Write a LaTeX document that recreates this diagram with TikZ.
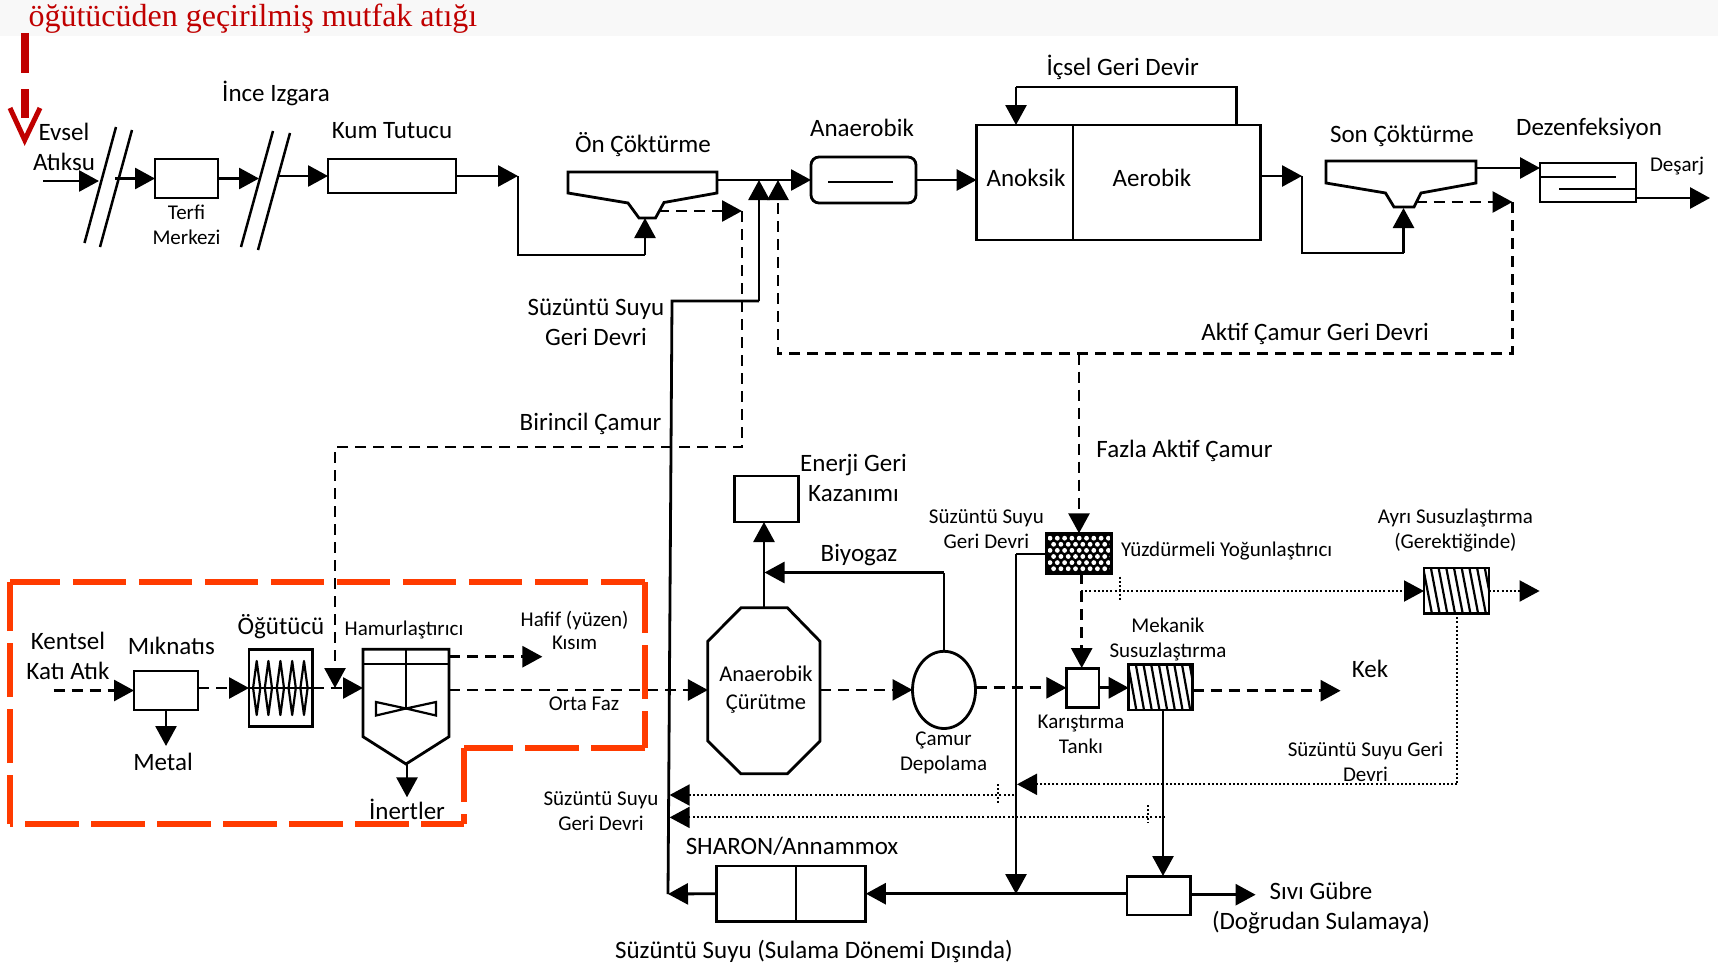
\documentclass[tikz,border=0pt]{standalone}
\usepackage{fontspec}
\setmainfont{Carlito}
\newfontfamily\redserif{Liberation Serif}
\usetikzlibrary{arrows.meta,shapes.geometric}
\definecolor{redtxt}{HTML}{C00000}
\definecolor{redbox}{HTML}{FF3B00}
\definecolor{band}{HTML}{F8F8F8}
\tikzset{
  every node/.style={inner sep=0pt,outer sep=0pt},
  unit/.style={draw=black,line width=2.8pt,rectangle},
  ghost/.style={draw=none,rectangle},
  lab/.style={align=center,text=black,font=\fontsize{25}{30}\selectfont},
  slab/.style={align=center,text=black,font=\fontsize{21}{25}\selectfont},
  wire/.style={line width=2.8pt,draw=black},
  flow/.style={wire,-{Triangle[length=20pt,width=21pt]}},
  dwire/.style={wire,dash pattern=on 11pt off 7pt},
  dflow/.style={dwire,-{Triangle[length=20pt,width=21pt]}},
  owire/.style={line width=2pt,draw=black,dash pattern=on 2pt off 2.2pt},
  oflow/.style={owire,-{Triangle[length=20pt,width=21pt]}},
  redseg/.style={line width=6pt,draw=redbox,dash pattern=on 53.6pt off 12.4pt},
}
\begin{document}
\begin{tikzpicture}[x=1pt,y=-1pt]
\useasboundingbox (0,0) rectangle (1718,966);
\fill[band] (0,0) rectangle (1718,36);

% ---------- named anchor points ----------
\coordinate (evinA) at (43,181);
\coordinate (evinB) at (99,181);
\coordinate (s1a) at (116,127); \coordinate (s1b) at (84.5,243);
\coordinate (s2a) at (132,130); \coordinate (s2b) at (100,247);
\coordinate (s3a) at (273,131); \coordinate (s3b) at (241,247);
\coordinate (s4a) at (290,133); \coordinate (s4b) at (258,250);
\coordinate (afterS2) at (115,178.5);
\coordinate (toS3) at (259,178.5);
\coordinate (afterS4) at (277,176);
\coordinate (kumOut) at (518,176);
\coordinate (kumLow) at (518,255);
\coordinate (onLow) at (645,255);
\coordinate (onIn) at (645,218);
\coordinate (onDash) at (658,211);
\coordinate (pcA) at (742,211);
\coordinate (pcB) at (742,447);
\coordinate (pcC) at (335,447);
\coordinate (pcD) at (335,688);
\coordinate (ssUp) at (759,180);
\coordinate (ssA) at (759,301);
\coordinate (ssB) at (672,301);
\coordinate (ssC) at (668,894);
\coordinate (rasUp) at (778,180);
\coordinate (rasA) at (778,353.5);
\coordinate (rasB) at (1512.5,353.5);
\coordinate (rasC) at (1512.5,202);
\coordinate (rasJ) at (1079,353.5);
\coordinate (aerOut) at (1302,176);
\coordinate (aerLow) at (1302,253);
\coordinate (sonLow) at (1403.5,253);
\coordinate (sonIn) at (1403.5,208);
\coordinate (sonDash) at (1415.5,202);
\coordinate (recA) at (1236.6,125);
\coordinate (recB) at (1236.6,87);
\coordinate (recC) at (1016,87);
\coordinate (recD) at (1016,125);
\coordinate (desOut) at (1710,198);

% ---------- top line units ----------
\node[unit,minimum width=63pt,minimum height=39pt] (terfi) at (186.5,178.5) {};
\node[unit,minimum width=128pt,minimum height=34pt] (kum) at (392,176) {};
\node[unit,minimum width=105pt,minimum height=46pt,rounded corners=8pt] (anae) at (863.5,180) {};
\node[unit,minimum width=284pt,minimum height=115pt] (reactor) at (1118.6,182.5) {};
\node[unit,minimum width=96pt,minimum height=39pt] (dez) at (1588,182.5) {};
\node[ghost,minimum width=149pt,minimum height=46pt] (on) at (642.5,195) {};
\node[ghost,minimum width=150pt,minimum height=46pt] (son) at (1401,184) {};

\draw[wire,line join=miter] (on.north west) -- (on.north east) -- (717,193) -- (664,202.5) -- (655.5,218) -- (639,218) -- (628,203) -- (568,193) -- cycle;
\draw[wire,line join=miter] (son.north west) -- (son.north east) -- (1476,183) -- (1421,193) -- (1414,207) -- (1394,207) -- (1385.5,193) -- (1326,183) -- cycle;
\draw[wire] (828,182) -- (893,182);
\draw[wire] (1073,125) -- (1073,240);
\draw[wire] (1540,177) -- (1616,177);
\draw[wire] (1559,189) -- (1635.6,189);

\foreach \p/\q in {s1a/s1b,s2a/s2b,s3a/s3b,s4a/s4b} \draw[line width=2.5pt] (\p) -- (\q);

\draw[flow] (evinA) -- (evinB);
\draw[flow] (afterS2) -- (terfi.west);
\draw[flow] (terfi.east) -- (toS3);
\draw[flow] (afterS4) -- (kum.west);
\draw[flow] (kum.east) -- (kumOut);
\draw[wire] (kumOut) -- (kumLow) -- (onLow);
\draw[flow] (onLow) -- (onIn);
\draw[flow] (717,180) -- (anae.west);
\draw[flow] (anae.east) -- (976.6,180);
\draw[flow] (1260.6,176) -- (aerOut);
\draw[wire] (aerOut) -- (aerLow) -- (sonLow);
\draw[flow] (sonLow) -- (sonIn);
\draw[flow] (1476,168) -- (1540,168);
\draw[flow] (1635.6,198) -- (desOut);
\draw[wire] (recA) -- (recB) -- (recC);
\draw[flow] (recC) -- (recD);
\draw[dflow] (onDash) -- (pcA);
\draw[dwire] (pcA) -- (pcB) -- (pcC) -- (335,670);
\draw[flow] (335,670) -- (pcD);
\draw[flow] (ssA) -- (ssUp);
\draw[wire] (ssC) -- (ssB) -- (ssA);
\draw[dwire] (rasC) -- (rasB) -- (rasA) -- (778,200);
\draw[flow] (778,200) -- (rasUp);
\draw[dflow] (sonDash) -- (rasC);

% ---------- lower line units ----------
\node[unit,minimum width=64pt,minimum height=39pt] (magnet) at (166,690.5) {};
\node[unit,minimum width=63.5pt,minimum height=77.4pt] (grinder) at (280.75,688) {};
\node[ghost,minimum width=86pt,minimum height=87.4pt] (pulper) at (406,693) {};
\node[unit,minimum width=64pt,minimum height=46pt] (energy) at (766.5,499) {};
\node[ghost,minimum width=112.2pt,minimum height=166pt] (digest) at (764,690.8) {};
\draw[wire,line join=miter] (741,607.8) -- (787.4,607.8) -- (820,641.3) -- (820,741) -- (787.4,773.8) -- (741,773.8) -- (707.8,741) -- (707.8,641.3) -- cycle;
\node[ellipse,draw=black,line width=2.8pt,minimum width=63pt,minimum height=77.2pt] (store) at (944,689.9) {};
\node[unit,minimum width=32.6pt,minimum height=39.3pt] (mixer) at (1082.7,687.8) {};
\node[unit,minimum width=64pt,minimum height=45.5pt] (mech) at (1160.7,687.3) {};
\node[unit,fill=black,minimum width=65pt,minimum height=39.8pt] (daf) at (1079,553.2) {};
\node[unit,minimum width=65pt,minimum height=45.3pt] (sep) at (1456.5,590.7) {};
\node[unit,minimum width=149.3pt,minimum height=55.3pt] (sharon) at (791.2,893.7) {};
\draw[wire] (sharon.north) ++(4.7,0) -- ++(0,55.3);
\node[unit,minimum width=63.6pt,minimum height=38.3pt] (fert) at (1158.8,895.8) {};

% grinder coil
\foreach \cx in {256.7,268.4,280.4,292.2,304}
  \draw[line width=2.2pt,line join=round] (\cx,661) -- (\cx+3.6,688) -- (\cx,715) -- (\cx-3.6,688) -- cycle;
\draw[line width=2pt] (grinder.west) -- (grinder.east);

% pulper
\draw[wire,line join=miter] (pulper.north west) -- (pulper.north east) -- (pulper.south east) -- (406,764) -- (pulper.south west) -- cycle;
\draw[wire] (363,664) -- (449,664);
\draw[wire] (406,649.3) -- (406,708);
\draw[line width=2.2pt,line join=miter] (406,708.5) -- (376,702) -- (376,715.5) -- cycle;
\draw[line width=2.2pt,line join=miter] (406,708.5) -- (436,702) -- (436,715.5) -- cycle;

% hatching
\begin{scope}
\clip (mech.south west) rectangle (mech.north east);
\foreach \i in {0,...,8} \draw[line width=2.2pt] (1128+\i*7.7,664) -- (1136.5+\i*7.7,711);
\end{scope}
\begin{scope}
\clip (sep.south west) rectangle (sep.north east);
\foreach \i in {0,...,8} \draw[line width=2.2pt] (1423+\i*7.7,567) -- (1432+\i*7.7,614);
\end{scope}

% flotation pattern
\begin{scope}
\clip (daf.south west) rectangle (daf.north east);
\foreach \r in {0,...,5} \foreach \c in {0,...,8}
  \pgfmathsetmacro{\dx}{mod(\r,2)*3.6}
  \fill[white] (1050+\c*7.3+\dx,538.2+\r*6.1) circle (2.4pt);
\end{scope}
\draw[line width=2.8pt] (daf.north west) rectangle (daf.south east);

% lower line connectors
\coordinate (msIn) at (53.6,690.5);
\coordinate (hafif) at (542.4,656.7);
\coordinate (pulpTop) at (449,656.7);
\coordinate (pulpMid) at (449,690);
\coordinate (pulpIn) at (363,688);
\coordinate (metal) at (166,746);
\coordinate (inert) at (407,797.3);
\coordinate (pulpTip) at (407,764);
\coordinate (mechOut) at (1192.7,690.7);
\coordinate (kek) at (1340.6,690.7);
\coordinate (biogasA) at (943.6,572.5);
\coordinate (biogasB) at (764.5,572.5);
\coordinate (dafOut) at (1081.7,573);
\coordinate (dafMix) at (1081.7,668);
\coordinate (dotJ) at (1081,591);
\coordinate (sepDot) at (1539.6,591);
\coordinate (sepD) at (1457.3,613);
\coordinate (sepC) at (1457.3,784.3);
\coordinate (ss2) at (1017,784.3);
\coordinate (dafL) at (1046.5,554);
\coordinate (dafK) at (1016,554);
\coordinate (busJ) at (1016,894);
\coordinate (fertOut) at (1255.6,894.7);
\coordinate (dotA) at (1014,795);
\coordinate (dotAt) at (669.6,795);
\coordinate (dotB) at (1165,817.4);
\coordinate (dotBt) at (669.6,817.4);
\coordinate (mechIn) at (1163,876);
\coordinate (mechDn) at (1163,710);

\draw[dflow] (msIn) -- (magnet.west);
\draw[dflow] (magnet.east |- grinder.west) -- (grinder.west);
\draw[dflow] (grinder.east) -- (pulpIn);
\draw[dflow] (pulpTop) -- (hafif);
\draw[dflow] (pulpMid) -- (pulpMid -| digest.west);
\draw[flow] (magnet.south) -- (metal);
\draw[flow] (pulpTip) -- (inert);
\draw[dflow] (digest.east |- store.west) -- (store.west);
\draw[dflow] (store.east |- mixer.west) -- (mixer.west);
\draw[flow] (mixer.east) -- (mixer.east -| mech.west);
\draw[dflow] (mechOut) -- (kek);
\draw[flow] (digest.north) -- (digest.north |- energy.south);
\draw[wire] (store.north) -- (store.north |- biogasA);
\draw[flow] (store.north |- biogasA) -- (biogasB);
\draw[dflow] (rasJ) -- (daf.north);
\draw[dflow] (dafOut) -- (dafMix);
\draw[oflow] (dotJ) -- (dotJ -| sep.west);
\draw[oflow] (sep.east |- sepDot) -- (sepDot);
\draw[owire] (sepD) -- (sepC);
\draw[oflow] (sepC) -- (ss2);
\draw[wire] (dafL) -- (dafK);
\draw[flow] (dafK) -- (busJ);
\draw[flow] (fert.west |- sharon.east) -- (sharon.east);
\draw[flow] (sharon.west) -- (ssC);
\draw[flow] (mechDn) -- (mechIn);
\draw[flow] (fert.east |- fertOut) -- (fertOut);
\draw[oflow] (dotA) -- (dotAt);
\draw[oflow] (dotB) -- (dotBt);
\draw[owire] (1120,576.7) -- (1120,600);
\draw[owire] (998.3,784) -- (998.3,803);
\draw[owire] (1148,805) -- (1148,823.4);

% ---------- orange boundary ----------
\coordinate (rbA) at (9.8,582.3);
\coordinate (rbB) at (645,582.3);
\coordinate (rbC) at (645,748.3);
\coordinate (rbD) at (464,748.3);
\coordinate (rbE) at (464,824);
\coordinate (rbF) at (9.8,824);
\draw[redseg,dash phase=3pt] (rbA) -- (rbB);
\draw[redseg,dash phase=3pt] (rbB) -- (rbC);
\draw[redseg] (rbC) -- (rbD);
\draw[redseg] (rbD) -- (rbE);
\draw[redseg,dash phase=11pt] (rbE) -- (rbF);
\draw[redseg,dash phase=5pt] (rbF) -- (rbA);

% ---------- red annotation ----------
\coordinate (rA) at (24.7,33);
\coordinate (rB) at (24.7,118);
\coordinate (rL) at (10,108);
\coordinate (rT) at (24.7,140);
\coordinate (rR) at (40,108);
\draw[redtxt,line width=8pt,dash pattern=on 40pt off 16pt] (rA) -- (rB);
\draw[redtxt,line width=5pt,line join=miter] (rL) -- (rT) -- (rR);
\node[anchor=west,text=redtxt,font=\redserif\fontsize{32}{36}\selectfont] (redlabel) at (28.5,19) {öğütücüden geçirilmiş mutfak atığı};

% ---------- labels ----------
\node[lab] (t1) at (64,146.5) {Evsel\\Atıksu};
\node[lab] (t2) at (276,93) {İnce Izgara};
\node[lab] (t3) at (392,131) {Kum Tutucu};
\node[lab] (t4) at (643,145) {Ön Çöktürme};
\node[lab] (t5) at (862,128) {Anaerobik};
\node[lab] (t6) at (1122.7,67) {İçsel Geri Devir};
\node[lab] (t7) at (1402,136) {Son Çöktürme};
\node[lab] (t8) at (1589,129) {Dezenfeksiyon};
\node[slab] (t9) at (1677,166) {Deşarj};
\node[lab] (t10) at (1026,178) {Anoksik};
\node[lab] (t11) at (1152,178) {Aerobik};
\node[lab] (t12) at (1315,334) {Aktif Çamur Geri Devri};
\node[slab] (t13) at (186.5,224.5) {Terfi\\Merkezi};
\node[lab] (t14) at (596,322.5) {Süzüntü Suyu\\Geri Devri};
\node[lab] (t15) at (590.6,424) {Birincil Çamur};
\node[lab] (t16) at (1184.5,451) {Fazla Aktif Çamur};
\node[lab] (t17) at (853.5,478) {Enerji Geri\\Kazanımı};
\node[lab] (t18) at (859,555.5) {Biyogaz};
\node[font=\fontsize{22.5}{28}\selectfont,align=center] (t39) at (766,689.5) {Anaerobik\\Çürütme};
\node[slab] (t19) at (986.4,529) {Süzüntü Suyu\\Geri Devri};
\node[slab] (t20) at (1226.7,551) {Yüzdürmeli Yoğunlaştırıcı};
\node[slab] (t21) at (1455.4,530.5) {Ayrı Susuzlaştırma\\(Gerektiğinde)};
\node[slab] (t22) at (1168,639) {Mekanik\\Susuzlaştırma};
\node[lab] (t23) at (1370,669) {Kek};
\node[slab] (t24) at (1081,734.5) {Karıştırma\\Tankı};
\node[slab] (t25) at (943.6,753) {Çamur\\Depolama};
\node[slab] (t26) at (1365.5,761.5) {Süzüntü Suyu Geri\\Devri};
\node[lab] (t27) at (792,846) {SHARON/Annammox};
\node[lab] (t28) at (814,951) {Süzüntü Suyu (Sulama Dönemi Dışında)};
\node[lab] (t29) at (1321,907.5) {Sıvı Gübre\\(Doğrudan Sulamaya)};
\node[slab] (t30) at (601,811) {Süzüntü Suyu\\Geri Devri};
\node[lab] (t31) at (68,655.7) {Kentsel\\Katı Atık};
\node[lab] (t32) at (171.4,646) {Mıknatıs};
\node[lab] (t33) at (281,627) {Öğütücü};
\node[slab] (t34) at (404,630) {Hamurlaştırıcı};
\node[slab] (t35) at (574.6,630) {Hafif (yüzen)\\[-2pt]Kısım};
\node[slab] (t36) at (584,704) {Orta Faz};
\node[lab] (t37) at (163,762) {Metal};
\node[lab] (t38) at (407,809.7) {İnertler};
\end{tikzpicture}
\end{document}
